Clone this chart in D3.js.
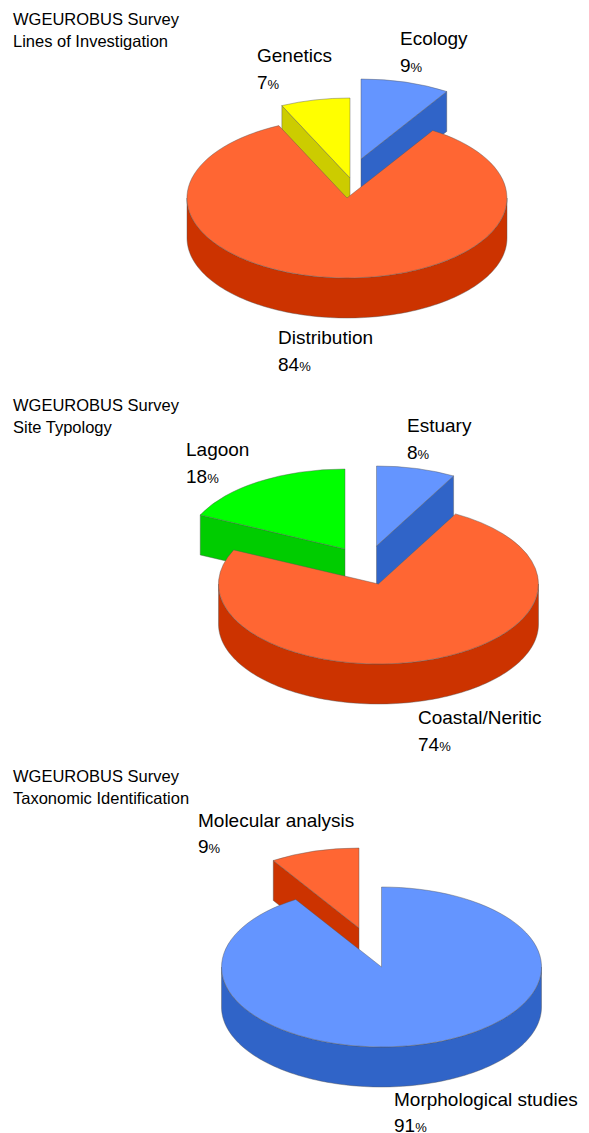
<!DOCTYPE html>
<html><head><meta charset="utf-8">
<script src="https://cdn.jsdelivr.net/npm/d3@7"></script>
<style>html,body{margin:0;padding:0;background:#fff}svg{display:block}</style>
</head><body><svg id="c" width="589" height="1133"></svg>
<script>
// Data
const surveyTitle = "WGEUROBUS Survey";
const chartSubtitles = ["Lines of Investigation", "Site Typology", "Taxonomic Identification"];
const linesCategories = ["Ecology", "Distribution", "Genetics"];
const linesValues = [9, 84, 7];
const siteCategories = ["Estuary", "Coastal/Neritic", "Lagoon"];
const siteValues = [8, 74, 18];
const taxonCategories = ["Morphological studies", "Molecular analysis"];
const taxonValues = [91, 9];

// Layout and style
const palette = {
  blue: ["#6495ff", "#3064c8"], orange: ["#ff6633", "#cc3300"],
  yellow: ["#ffff00", "#cccc00"], green: ["#00ff00", "#00cc00"]
};
const RX = 160, RY = 80, DEPTH = 40;
const charts = [
  { subtitle: 0, cats: linesCategories, vals: linesValues, title: [13, 25, 47], colors: ["blue","orange","yellow"],
    centers: [[361,159],[347,198],[350,178]], main: 1,
    labels: [[400,45,72],[278,344,371],[257,62,89]] },
  { subtitle: 1, cats: siteCategories, vals: siteValues, title: [13, 411, 433], colors: ["blue","orange","green"],
    centers: [[376.5,546],[378.5,584],[345,549]], main: 1,
    labels: [[407,432,459],[418,724,751],[186,456,483]] },
  { subtitle: 2, cats: taxonCategories, vals: taxonValues, title: [13, 782, 804], colors: ["blue","orange"],
    centers: [[381.5,967],[359,928]], main: 0,
    labels: [[394,1106,1132],[198,827,853]] }
];

const svg = d3.select("#c");
const pie = d3.pie().sort(null).value(d => d);
const arc = d3.arc().innerRadius(0).outerRadius(1);
const rxScale = d3.scaleLinear().domain([0, 1]).range([0, RX]);
const ryScale = d3.scaleLinear().domain([0, 1]).range([0, RY]);
const line = d3.line();
const TAU = Math.PI * 2;
const px = a => rxScale(Math.sin(a));
const py = a => -ryScale(Math.cos(a));

charts.forEach(ch => {
  const arcs = pie(ch.vals);
  const order = d3.range(arcs.length).sort((a, b) => (a === ch.main) - (b === ch.main));
  order.forEach(i => {
    const d = arcs[i], [cx, cy] = ch.centers[i], [top, side] = palette[ch.colors[i]];
    const g = svg.append("g").attr("transform", `translate(${cx},${cy})`);
    const wallStyle = s => s.attr("fill", side).attr("stroke", "#555").attr("stroke-opacity", 0.7).attr("stroke-width", 0.6).attr("stroke-linejoin", "round");
    [d.startAngle, d.endAngle].forEach((a, k) => {
      const visible = k === 0 ? (a > Math.PI && a < TAU) : (a > 0 && a < Math.PI);
      if (!visible) return;
      g.append("path").call(wallStyle)
        .attr("d", line([[0,0],[px(a),py(a)],[px(a),py(a)+DEPTH],[0,DEPTH]]) + "Z");
    });
    const a0 = Math.max(d.startAngle, Math.PI/2), a1 = Math.min(d.endAngle, Math.PI*1.5);
    if (a1 > a0) {
      const as = d3.range(0, 121).map(t => a0 + (a1 - a0) * t / 120);
      const pts = as.map(a => [px(a), py(a)]).concat(as.slice().reverse().map(a => [px(a), py(a)+DEPTH]));
      g.append("path").call(wallStyle).attr("d", line(pts) + "Z");
    }
    g.append("g").attr("transform", `scale(${RX},${RY})`)
      .append("path").attr("d", arc(d)).attr("fill", top)
      .attr("stroke", "#555").attr("stroke-opacity", 0.7).attr("stroke-width", 0.6)
      .attr("stroke-linejoin", "round").attr("vector-effect", "non-scaling-stroke");
  });
  const ff = "'Liberation Sans',Arial,Helvetica,sans-serif";
  svg.append("text").attr("x", ch.title[0]).attr("y", ch.title[1]).attr("font-family", ff).attr("font-size", 16.5).attr("fill", "#000").text(surveyTitle);
  svg.append("text").attr("x", ch.title[0]).attr("y", ch.title[2]).attr("font-family", ff).attr("font-size", 16.5).attr("fill", "#000").text(chartSubtitles[ch.subtitle]);
  ch.cats.forEach((c, i) => {
    const [x, y1, y2] = ch.labels[i];
    svg.append("text").attr("x", x).attr("y", y1).attr("font-family", ff).attr("font-size", 19).attr("fill", "#000").text(c);
    const t = svg.append("text").attr("x", x).attr("y", y2).attr("font-family", ff).attr("font-size", 19).attr("fill", "#000");
    t.append("tspan").text(ch.vals[i]);
    t.append("tspan").attr("font-size", 13).text("%");
  });
});
</script></body></html>
